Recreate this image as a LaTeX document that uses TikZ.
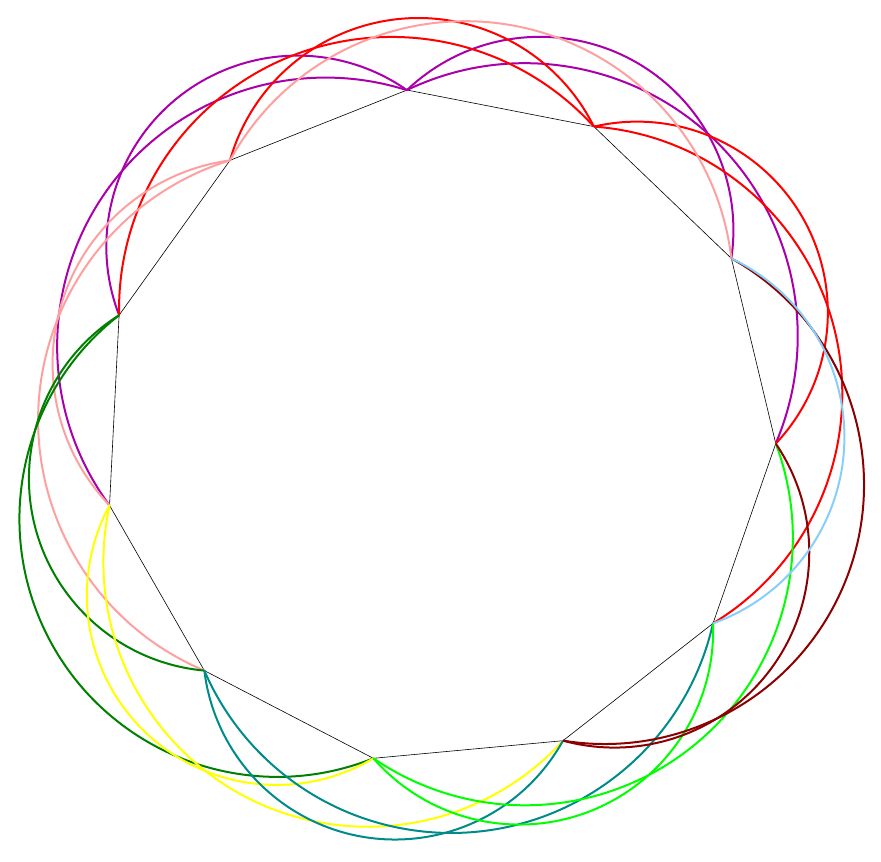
\documentclass[tikz,border=0pt]{standalone}
\usetikzlibrary{calc}
\definecolor{cpurple}{RGB}{170,0,170}
\definecolor{cred}{RGB}{255,0,0}
\definecolor{cpink}{RGB}{255,160,160}
\definecolor{cgreen}{RGB}{0,128,0}
\definecolor{cyellow}{RGB}{255,255,0}
\definecolor{cteal}{RGB}{0,139,139}
\definecolor{clime}{RGB}{0,255,0}
\definecolor{cmaroon}{RGB}{139,0,0}
\definecolor{cblue}{RGB}{135,206,250}
% circular arc from #1 to #2 (clockwise neighbour), bulging outward, tangent-chord angle #3
\newcommand\outarc[4]{%
  \draw[#4] let \p1=(#1), \p2=(#2),
    \n1={atan2(\y2-\y1,\x2-\x1)},
    \n2={veclen(\x2-\x1,\y2-\y1)/(2*sin(#3))} in
    (#1) arc[start angle={\n1+#3+90}, delta angle={-2*#3}, radius={\n2}];}
\begin{document}
\begin{tikzpicture}[x=1pt,y=1pt, arcline/.style={line width=2pt}, polyline/.style={line width=0.6pt, black}]
\useasboundingbox (0,0) rectangle (881,862);
\coordinate (O) at (438.2,435.4);
\foreach \k in {1,...,11} {\coordinate (P\k) at ($(O)+({95.3-32.7273*(\k-1)}:338)$);}
\draw[polyline] (P1)--(P2)--(P3)--(P4)--(P5)--(P6)--(P7)--(P8)--(P9)--(P10)--(P11)--cycle;
\outarc{P1}{P3}{71}{arcline,cpurple}
\outarc{P1}{P4}{69.4}{arcline,cpurple}
\outarc{P10}{P1}{73}{arcline,cpurple}
\outarc{P9}{P1}{72}{arcline,cpurple}
\outarc{P2}{P4}{73.2}{arcline,cred}
\outarc{P2}{P5}{72.3}{arcline,cred}
\outarc{P11}{P2}{68.8}{arcline,cred}
\outarc{P10}{P2}{69.5}{arcline,cred}
\outarc{P11}{P3}{72.3}{arcline,cpink}
\outarc{P9}{P11}{63}{arcline,cpink}
\outarc{P8}{P11}{70}{arcline,cpink}
\outarc{P8}{P10}{71.3}{arcline,cgreen}
\outarc{P7}{P10}{82}{arcline,cgreen}
\outarc{P7}{P9}{74.5}{arcline,cyellow}
\outarc{P6}{P9}{75}{arcline,cyellow}
\outarc{P6}{P8}{72}{arcline,cteal}
\outarc{P5}{P8}{72}{arcline,cteal}
\outarc{P5}{P7}{70.5}{arcline,clime}
\outarc{P4}{P7}{72.5}{arcline,clime}
\outarc{P4}{P6}{69.7}{arcline,cmaroon}
\outarc{P3}{P6}{80}{arcline,cmaroon}
\outarc{P3}{P5}{67.5}{arcline,cblue}
\end{tikzpicture}
\end{document}
